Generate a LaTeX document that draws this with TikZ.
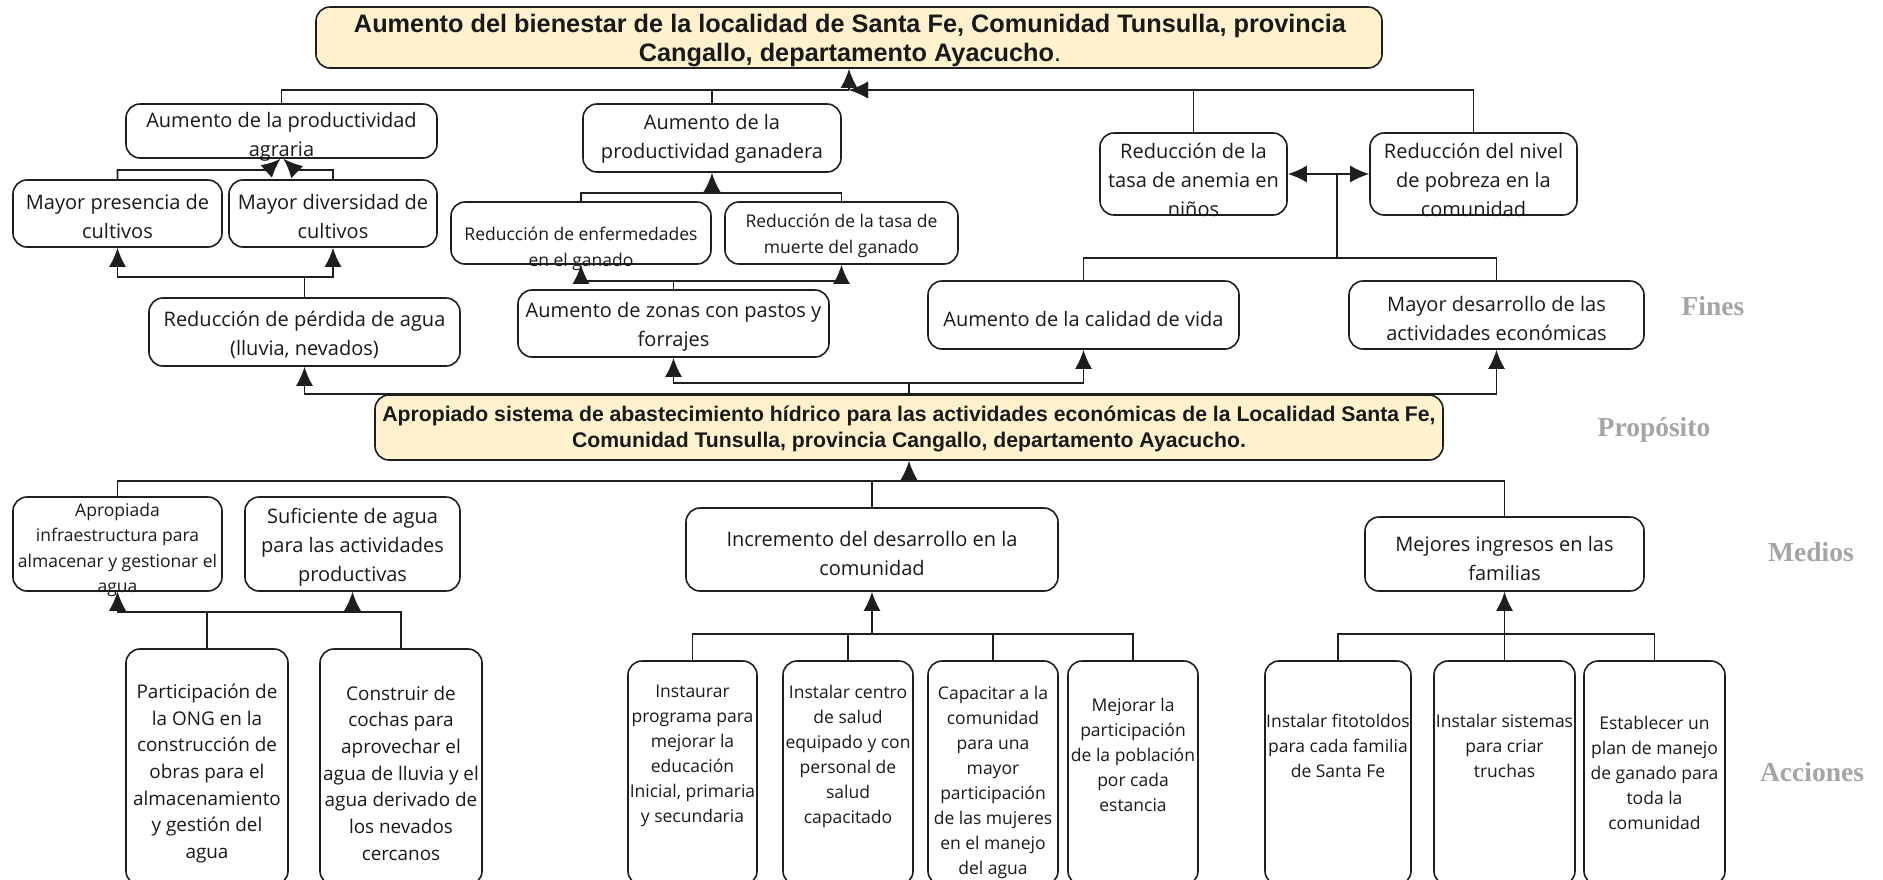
\documentclass[tikz,border=0pt]{standalone}
\usepackage{fontspec}
\setmainfont{Open Sans}
\newfontfamily\titlefont{Liberation Sans}
\newfontfamily\sidefont{Liberation Serif}
\usetikzlibrary{arrows.meta}
\definecolor{purpfill}{HTML}{FFF2CC}
\definecolor{linec}{HTML}{1E1E1E}
\definecolor{sidegray}{HTML}{A5A5A5}
\begin{document}
\begin{tikzpicture}[x=1pt,y=-1pt,
 box/.style={draw=linec, line width=1.6pt, rounded corners=14pt, inner sep=0pt},
 hl/.style={box, fill=purpfill},
 txt/.style={align=center, inner sep=0pt, text=black!90, font=\fontsize{20}{29}\selectfont},
 stxt/.style={txt, font=\fontsize{17.5}{25.5}\selectfont},
 atxt/.style={txt, font=\fontsize{18.9}{26.7}\selectfont},
 ctxt/.style={txt, font=\fontsize{17.5}{25}\selectfont},
 ttxt/.style={txt, font=\titlefont\bfseries\fontsize{25.3}{28.5}\selectfont},
 ptxt/.style={txt, font=\titlefont\bfseries\fontsize{21.2}{26}\selectfont},
 side/.style={font=\sidefont\bfseries\fontsize{27.5}{30}\selectfont, text=sidegray, inner sep=0pt},
 ln/.style={draw=linec, line width=1.7pt},
 arr/.style={ln, -{Latex[length=19pt,width=17pt]}},
]
\useasboundingbox (0,0) rectangle (1883,879);
% ---------- boxes ----------
\node[hl, minimum width=1066pt, minimum height=61pt] (T) at (849,37.5) {};
\node[box, minimum width=311pt, minimum height=54pt] (F1) at (281.5,131) {};
\node[box, minimum width=258pt, minimum height=68pt] (F2) at (712,138) {};
\node[box, minimum width=209pt, minimum height=67pt] (F3) at (117.5,213.5) {};
\node[box, minimum width=208pt, minimum height=67pt] (F4) at (333,213.5) {};
\node[box, minimum width=260pt, minimum height=62pt] (F5) at (581,233) {};
\node[box, minimum width=233pt, minimum height=62pt] (F6) at (841.5,233) {};
\node[box, minimum width=311pt, minimum height=68pt] (F7) at (304.5,332) {};
\node[box, minimum width=311pt, minimum height=67pt] (F8) at (673.5,323.5) {};
\node[box, minimum width=311pt, minimum height=68pt] (F9) at (1083.5,315) {};
\node[box, minimum width=295pt, minimum height=68pt] (F10) at (1496.5,315) {};
\node[box, minimum width=187pt, minimum height=82pt] (F11) at (1193.5,174) {};
\node[box, minimum width=207pt, minimum height=82pt] (F12) at (1473.5,174) {};
\node[hl, minimum width=1068pt, minimum height=65pt] (P) at (909,427.5) {};
\node[box, minimum width=209pt, minimum height=94pt] (M1) at (117.5,544) {};
\node[box, minimum width=215pt, minimum height=94pt] (M2) at (352.5,544) {};
\node[box, minimum width=372pt, minimum height=83pt] (M3) at (872,549.5) {};
\node[box, minimum width=279pt, minimum height=74pt] (M4) at (1504.5,554) {};
\node[box, minimum width=162pt, minimum height=236pt] (A1) at (207,767) {};
\node[box, minimum width=162pt, minimum height=236pt] (A2) at (401,767) {};
\node[box, minimum width=129pt, minimum height=224pt] (A3) at (692.5,773) {};
\node[box, minimum width=130pt, minimum height=224pt] (A4) at (848,773) {};
\node[box, minimum width=130pt, minimum height=224pt] (A5) at (993,773) {};
\node[box, minimum width=130pt, minimum height=224pt] (A6) at (1133,773) {};
\node[box, minimum width=146pt, minimum height=224pt] (A7) at (1338,773) {};
\node[box, minimum width=141pt, minimum height=224pt] (A8) at (1504.5,773) {};
\node[box, minimum width=141pt, minimum height=224pt] (A9) at (1654.5,773) {};
% ---------- texts ----------
\node[ttxt] (Tt) at (850,40.5) {Aumento del bienestar de la localidad de Santa Fe, Comunidad Tunsulla, provincia\\Cangallo, departamento Ayacucho{\mdseries.}};
\node[txt] (F1t) at (281.5,137) {Aumento de la productividad\\agraria};
\node[txt] (F2t) at (712,139) {Aumento de la\\productividad ganadera};
\node[txt] (F3t) at (117.5,216) {Mayor presencia de\\cultivos};
\node[txt] (F4t) at (333,216) {Mayor diversidad de\\cultivos};
\node[stxt] (F5t) at (581,249) {Reducción de enfermedades\\en el ganado};
\node[stxt] (F6t) at (841.5,236) {Reducción de la tasa de\\muerte del ganado};
\node[txt] (F7t) at (304.5,335) {Reducción de pérdida de agua\\(lluvia, nevados)};
\node[txt] (F8t) at (673.5,327) {Aumento de zonas con pastos y\\forrajes};
\node[txt] (F9t) at (1083.5,319) {Aumento de la calidad de vida};
\node[txt] (F10t) at (1496.5,318) {Mayor desarrollo de las\\actividades económicas};
\node[txt] (F11t) at (1193.5,180) {Reducción de la\\tasa de anemia en\\niños};
\node[txt] (F12t) at (1473.5,180) {Reducción del nivel\\de pobreza en la\\comunidad};
\node[ptxt] (Pt) at (909,429) {Apropiado sistema de abastecimiento hídrico para las actividades económicas de la Localidad Santa Fe,\\Comunidad Tunsulla, provincia Cangallo, departamento Ayacucho.};
\node[stxt] (M1t) at (117.5,550) {Apropiada\\infraestructura para\\almacenar y gestionar el\\agua};
\node[txt] (M2t) at (352.5,547) {Suficiente de agua\\para las actividades\\productivas};
\node[txt] (M3t) at (872,553) {Incremento del desarrollo en la\\comunidad};
\node[txt] (M4t) at (1504.5,558) {Mejores ingresos en las\\familias};
\node[atxt] (A1t) at (207,773.5) {Participación de\\la ONG en la\\construcción de\\obras para el\\almacenamiento\\y gestión del\\agua};
\node[atxt] (A2t) at (401,773) {Construir de\\cochas para\\aprovechar el\\agua de lluvia y el\\agua derivado de\\los nevados\\cercanos};
\node[ctxt] (A3t) at (692.5,756) {Instaurar\\programa para\\mejorar la\\educación\\Inicial, primaria\\y secundaria};
\node[ctxt] (A4t) at (848,756) {Instalar centro\\de salud\\equipado y con\\personal de\\salud\\capacitado};
\node[ctxt] (A5t) at (993,782) {Capacitar a la\\comunidad\\para una\\mayor\\participación\\de las mujeres\\en el manejo\\del agua};
\node[ctxt] (A6t) at (1133,755) {Mejorar la\\participación\\de la población\\por cada\\estancia};
\node[ctxt] (A7t) at (1338,746) {Instalar fitotoldos\\para cada familia\\de Santa Fe};
\node[ctxt] (A8t) at (1504.5,746) {Instalar sistemas\\para criar\\truchas};
\node[ctxt] (A9t) at (1654.5,773) {Establecer un\\plan de manejo\\de ganado para\\toda la\\comunidad};
% ---------- side labels ----------
\node[side] (Lf) at (1713,306) {Fines};
\node[side] (Lp) at (1654,430) {Propósito};
\node[side] (Lm) at (1811,552) {Medios};
\node[side] (La) at (1812,772) {Acciones};
% ---------- junctions ----------
\coordinate (jT) at (849,90);
\coordinate (j2) at (712,193);
\coordinate (j7) at (304.5,277);
\coordinate (j8) at (673.5,281);
\coordinate (j9) at (1337,258);
\coordinate (j11) at (1337,174);
\coordinate (jP2) at (909,383);
\coordinate (jM) at (909,481);
\coordinate (jA1) at (207,612);
\coordinate (jA2) at (401,612);
\coordinate (jM3) at (872,634);
\coordinate (jM4) at (1504.5,634);
% ---------- connectors ----------
\draw[arr] (jT) -- (T.south);
\draw[ln] (F1.north) |- (jT);
\draw[ln] (F2.north) |- (jT);
\draw[arr] (F11.north) |- (jT);
\draw[arr] (F12.north) |- (jT);
\draw[arr] (F3.north) |- (268,170) -- ([xshift=-1pt]F1.south);
\draw[arr] (F4.north) |- (295,170) -- ([xshift=2pt]F1.south);
\draw[arr] (F7.north) -- (j7) -| (F3.south);
\draw[arr] (j7) -| (F4.south);
\draw[arr] (F8.north) -- (j8) -| (F5.south);
\draw[arr] (j8) -| (F6.south);
\draw[ln] (F5.north) |- (j2);
\draw[ln] (F6.north) |- (j2);
\draw[arr] (j2) -- (F2.south);
\draw[ln] (F9.north) |- (j9);
\draw[ln] (F10.north) |- (j9);
\draw[ln] (j9) -- (j11);
\draw[arr] (j11) -- (F11.east);
\draw[arr] (j11) -- (F12.west);
\draw[arr] (P.north) -| (F7.south);
\draw[arr] (P.north) -| (F10.south);
\draw[ln] (P.north) -- (jP2);
\draw[arr] (jP2) -| (F8.south);
\draw[arr] (jP2) -| (F9.south);
\draw[arr] (jM) -- (P.south);
\draw[ln] (M1.north) |- (jM);
\draw[ln] (M3.north) |- (jM);
\draw[ln] (M4.north) |- (jM);
\draw[arr] (A1.north) -- (jA1) -| (M1.south);
\draw[arr] (A2.north) -- (jA2) -| (M2.south);
\draw[arr] (jA2) -| (M1.south);
\draw[ln] (A3.north) |- (jM3);
\draw[ln] (A4.north) |- (jM3);
\draw[ln] (A5.north) |- (jM3);
\draw[ln] (A6.north) |- (jM3);
\draw[arr] (jM3) -- (M3.south);
\draw[ln] (A7.north) |- (jM4);
\draw[ln] (A9.north) |- (jM4);
\draw[arr] (A8.north) -- (M4.south);
\end{tikzpicture}
\end{document}
